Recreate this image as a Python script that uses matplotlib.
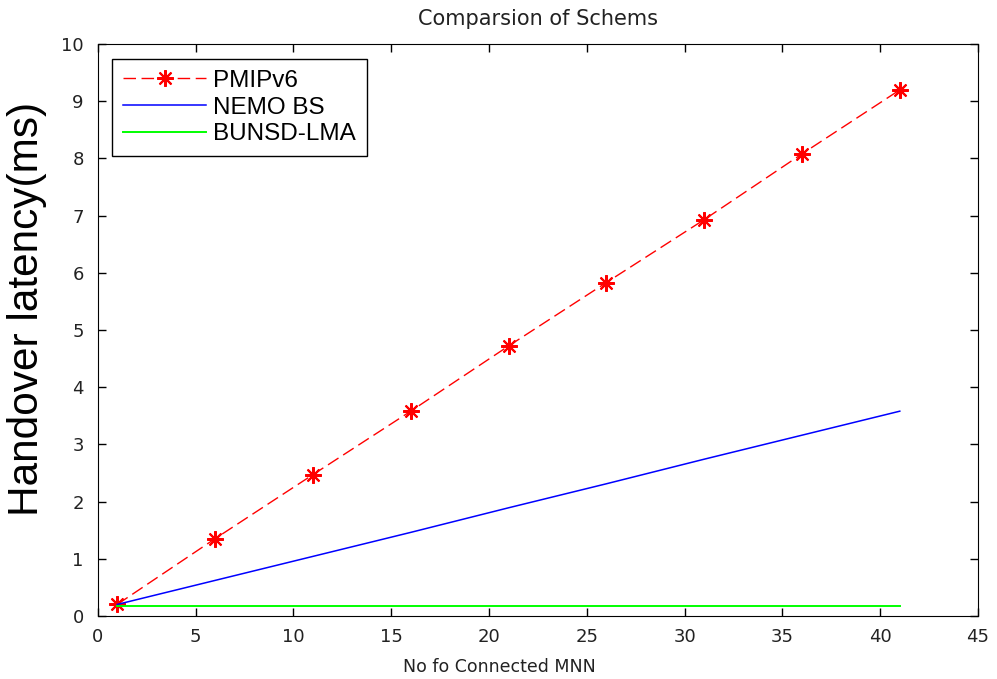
"""
Handover latency comparison chart
"""
import matplotlib
matplotlib.use("Agg")
import matplotlib.pyplot as plt

# number of connected MNN
mnn = [1, 6, 11, 16, 21, 26, 31, 36, 41]

# handover latency (ms) per scheme
pmipv6 = [0.2, 1.35, 2.47, 3.58, 4.72, 5.83, 6.93, 8.08, 9.2]
nemo_bs = [0.2, 0.62, 1.04, 1.46, 1.89, 2.31, 2.74, 3.16, 3.58]
bunsd_lma = [0.18, 0.18, 0.18, 0.18, 0.18, 0.18, 0.18, 0.18, 0.18]

x_ticks = [0, 5, 10, 15, 20, 25, 30, 35, 40, 45]
y_ticks = [0, 1, 2, 3, 4, 5, 6, 7, 8, 9, 10]

fig = plt.figure(figsize=(9.97, 6.79), dpi=100)
ax = fig.add_axes([0.098, 0.093, 0.883, 0.842])

# matlab style asterisk marker (8 arms)
ax.plot(mnn, pmipv6, color="red", linestyle=(0, (9, 4)), linewidth=1,
        marker=(8, 2, 0), markersize=12, markeredgewidth=1.5,
        label="PMIPv6")
ax.plot(mnn, nemo_bs, color="blue", linewidth=1.1, label="NEMO BS")
ax.plot(mnn, bunsd_lma, color="#00ff00", linewidth=1.4, label="BUNSD-LMA")

ax.set_xlim(0, 45)
ax.set_ylim(0, 10)
ax.set_xticks(x_ticks)
ax.set_yticks(y_ticks)
ax.tick_params(direction="in", top=True, right=True, length=6,
               labelsize=13, width=1)
ax.tick_params(axis="x", pad=9)
ax.tick_params(axis="y", pad=10)
for lbl in ax.get_xticklabels() + ax.get_yticklabels():
    lbl.set_family("DejaVu Sans")
    lbl.set_color("#222222")

ax.set_title("Comparsion of Schems", fontsize=15, family="DejaVu Sans",
             pad=14, color="#222222")
ax.set_xlabel("No fo Connected MNN", fontsize=12.5, family="DejaVu Sans",
              color="#222222")
ax.xaxis.set_label_coords(0.456, -0.073)
ax.set_ylabel("Handover latency(ms)", fontsize=30.5, family="Liberation Sans")
ax.yaxis.set_label_coords(-0.058, 0.537)

leg = ax.legend(loc="upper left", prop={"family": "Liberation Sans",
                                         "size": 17.5},
                fancybox=False, edgecolor="black", framealpha=1,
                handlelength=3.4, handletextpad=0.3, borderaxespad=0.6,
                labelspacing=0.2, borderpad=0.45)
leg.get_frame().set_linewidth(1)

fig.savefig("out.png", dpi=100)
